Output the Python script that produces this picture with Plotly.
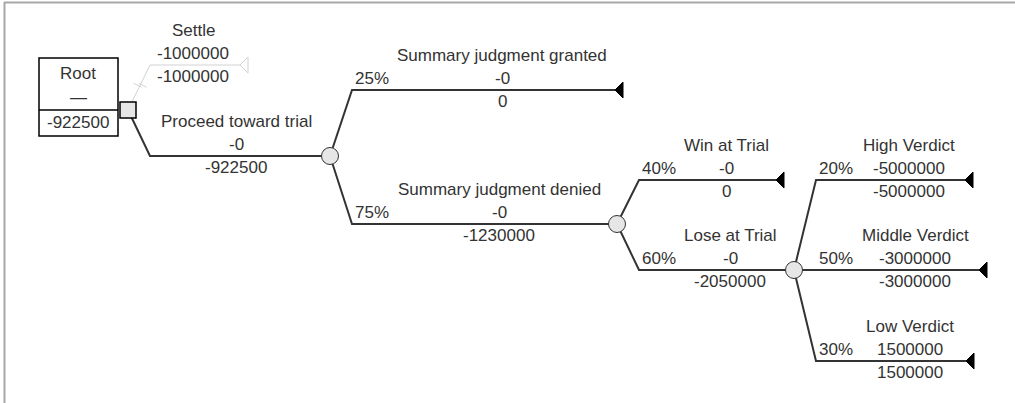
import plotly.graph_objects as go

# ---------------- data ----------------
names = ["Root", "Settle", "Proceed toward trial", "Summary judgment granted",
         "Summary judgment denied", "Win at Trial", "Lose at Trial",
         "High Verdict", "Middle Verdict", "Low Verdict"]
parents = [None, 0, 0, 2, 2, 4, 4, 6, 6, 6]
node_types = ["decision", "terminal", "chance", "terminal", "chance",
              "terminal", "chance", "terminal", "terminal", "terminal"]
probs = [None, None, None, 25, 75, 40, 60, 20, 50, 30]
payoffs = [None, -1000000, -0.0, -0.0, -0.0, -0.0, -0.0, -5000000, -3000000, 1500000]
values = [-922500, -1000000, -922500, 0, -1230000, 0, -2050000, -5000000, -3000000, 1500000]
optimal = [True, False, True, True, True, True, True, True, True, True]

# ---------------- layout (pixel geometry) ----------------
node_x = [128, 240, 330, 615, 617, 776, 794, 965, 979, 966]
node_y = [110, 65, 156, 90, 224, 180, 270, 180, 270, 361]
label_cx = [78, 193, 236, 502, 499, 726, 730, 909, 915, 910]
CORNER = 22
W, H = 1015, 403
FONT = "Liberation Sans, Arial, sans-serif"
FS = 17
TXT = "#333333"
LINE = "#333333"
GRAY = "#d2d2d2"


def fmt(v):
    return f"{v:.0f}"


fig = go.Figure()
ann = []

# branches
for i, p in enumerate(parents):
    if p is None:
        continue
    px, py = node_x[p], node_y[p]
    cx = px + CORNER
    cy = node_y[i]
    ex = node_x[i]
    col = LINE if optimal[i] else GRAY
    wid = 2 if optimal[i] else 1
    if cy == py:
        xs, ys = [px, ex], [py, cy]
    else:
        xs, ys = [px, cx, ex], [py, cy, cy]
    fig.add_trace(go.Scatter(x=xs, y=ys, mode="lines",
                             line=dict(color=col, width=wid), hoverinfo="skip"))
    if not optimal[i]:
        # double-slash marks on the non-optimal decision branch
        mx = px + (cx - px) * 0.55
        my = py + (cy - py) * 0.55
        for d in (-2.5, 2.5):
            fig.add_trace(go.Scatter(x=[mx + d - 4, mx + d + 4], y=[my - 2, my + 2],
                                     mode="lines", line=dict(color=col, width=1),
                                     hoverinfo="skip"))
    # terminal triangle
    if node_types[i] == "terminal":
        tx = [ex, ex + 8, ex + 8, ex]
        ty = [cy, cy - 8, cy + 8, cy]
        if optimal[i]:
            fig.add_trace(go.Scatter(x=tx, y=ty, mode="lines", fill="toself",
                                     fillcolor="#000000", line=dict(color="#000000", width=1),
                                     hoverinfo="skip"))
        else:
            fig.add_trace(go.Scatter(x=tx, y=ty, mode="lines",
                                     line=dict(color=GRAY, width=1), hoverinfo="skip"))
    # labels
    lx = label_cx[i]
    ann.append(dict(x=lx, y=cy - 35, text=names[i]))
    ann.append(dict(x=lx, y=cy - 12, text=fmt(payoffs[i])))
    ann.append(dict(x=lx, y=cy + 11, text=fmt(values[i])))
    if probs[i] is not None:
        ann.append(dict(x=cx + 1, y=cy - 12, text=f"{probs[i]}%", xanchor="left"))

# nodes
for i, t in enumerate(node_types):
    if t == "chance":
        fig.add_trace(go.Scatter(x=[node_x[i]], y=[node_y[i]], mode="markers",
                                 marker=dict(symbol="circle", size=17, color="#e6e6e6",
                                             line=dict(color="#333333", width=1)),
                                 hoverinfo="skip"))
    elif t == "decision":
        fig.add_trace(go.Scatter(x=[node_x[i]], y=[node_y[i]], mode="markers",
                                 marker=dict(symbol="square", size=16, color="#e6e6e6",
                                             line=dict(color="#000000", width=1.5)),
                                 hoverinfo="skip"))

# root summary box
shapes = [
    dict(type="rect", xref="x", yref="y", x0=39, x1=118, y0=58, y1=136,
         line=dict(color="#000000", width=1.5), fillcolor="rgba(0,0,0,0)"),
    dict(type="line", xref="x", yref="y", x0=39, x1=118, y0=110, y1=110,
         line=dict(color="#000000", width=1.5)),
    # frame
    dict(type="line", xref="x", yref="y", x0=4, x1=W, y0=2.5, y1=2.5,
         line=dict(color="#a8a8a8", width=2)),
    dict(type="line", xref="x", yref="y", x0=4.5, x1=4.5, y0=2, y1=H,
         line=dict(color="#a8a8a8", width=2)),
]
ann.append(dict(x=label_cx[0], y=73, text=names[0]))
ann.append(dict(x=label_cx[0], y=97, text="—"))
ann.append(dict(x=label_cx[0], y=122, text=fmt(values[0])))

annotations = []
for a in ann:
    d = dict(xref="x", yref="y", showarrow=False, xanchor="center", yanchor="middle",
             font=dict(family=FONT, size=FS, color=TXT))
    d.update(a)
    annotations.append(d)

fig.update_layout(
    width=W, height=H, margin=dict(l=0, r=0, t=0, b=0),
    paper_bgcolor="white", plot_bgcolor="white", showlegend=False,
    xaxis=dict(range=[0, W], visible=False, fixedrange=True),
    yaxis=dict(range=[H, 0], visible=False, fixedrange=True),
    shapes=shapes, annotations=annotations,
)
fig.write_html("out.html", config={"displayModeBar": False},
               post_script="document.body.style.margin='0px';"
                           "document.body.style.overflow='hidden';")
